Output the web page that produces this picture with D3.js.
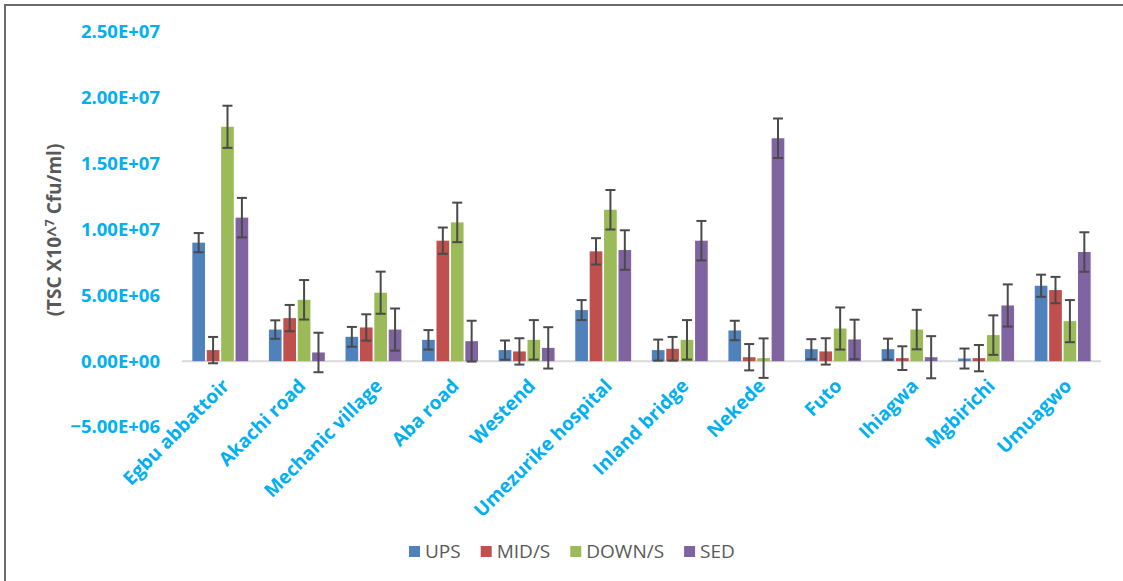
<!DOCTYPE html>
<html>
<head>
<meta charset="utf-8">
<script src="https://cdn.jsdelivr.net/npm/d3@7"></script>
<style>
	html, body { margin: 0; padding: 0; background: #fff; }
	svg { display: block; font-family: 'Open Sans', sans-serif; }
</style>
</head>
<body>
<script>
// sampling sites
var categories = ['Egbu abbattoir', 'Akachi road', 'Mechanic village', 'Aba road', 'Westend',
	'Umezurike hospital', 'Inland bridge', 'Nekede', 'Futo', 'Ihiagwa', 'Mgbirichi', 'Umuagwo'];

var seriesNames = ['UPS', 'MID/S', 'DOWN/S', 'SED'];

// TSC values (cfu/ml)
var ups = [9.0e6, 2.4e6, 1.85e6, 1.62e6, 0.84e6, 3.88e6, 0.84e6, 2.33e6, 0.91e6, 0.91e6, 0.2e6, 5.73e6];
var mid = [0.84e6, 3.27e6, 2.56e6, 9.15e6, 0.74e6, 8.34e6, 0.94e6, 0.3e6, 0.74e6, 0.23e6, 0.23e6, 5.4e6];
var down = [17.8e6, 4.66e6, 5.2e6, 10.54e6, 1.62e6, 11.5e6, 1.62e6, 0.23e6, 2.48e6, 2.4e6, 1.98e6, 3.04e6];
var sed = [10.9e6, 0.66e6, 2.4e6, 1.52e6, 1.01e6, 8.44e6, 9.15e6, 16.93e6, 1.65e6, 0.3e6, 4.23e6, 8.29e6];

// error bar half-lengths
var upsErr = [0.73e6, 0.7e6, 0.75e6, 0.74e6, 0.73e6, 0.76e6, 0.8e6, 0.74e6, 0.76e6, 0.8e6, 0.76e6, 0.84e6];
var midErr = [1.0e6, 1.0e6, 1.0e6, 1.0e6, 1.0e6, 1.0e6, 0.9e6, 1.0e6, 1.0e6, 0.9e6, 1.0e6, 1.0e6];
var downErr = [1.6e6, 1.5e6, 1.6e6, 1.5e6, 1.5e6, 1.5e6, 1.5e6, 1.5e6, 1.6e6, 1.5e6, 1.5e6, 1.6e6];
var sedErr = [1.5e6, 1.5e6, 1.6e6, 1.55e6, 1.57e6, 1.5e6, 1.5e6, 1.5e6, 1.5e6, 1.6e6, 1.6e6, 1.5e6];

var yTicks = [-5e6, 0, 5e6, 1e7, 1.5e7, 2e7, 2.5e7];

var colors = ['#4F81BD', '#C0504D', '#9BBB59', '#8064A2'];
var seriesValues = [ups, mid, down, sed];
var seriesErrors = [upsErr, midErr, downErr, sedErr];

var width = 1123, height = 581;
var plotLeft = 182, plotRight = 1101, plotTop = 32, plotBottom = 427;

var svg = d3.select('body').append('svg')
	.attr('width', width)
	.attr('height', height);

// chart frame (only left and top edges are visible in the crop)
svg.append('path')
	.attr('d', 'M5,' + height + ' L5,5 L' + width + ',5')
	.attr('fill', 'none')
	.attr('stroke', '#6b6b6b')
	.attr('stroke-width', 2);

var y = d3.scaleLinear().domain([-5e6, 2.5e7]).range([plotBottom, plotTop]);

var x0 = d3.scaleBand().domain(categories).range([plotLeft, plotRight])
	.paddingInner(0.27).paddingOuter(0.135);
var x1 = d3.scaleBand().domain(seriesNames).range([0, x0.bandwidth()]).paddingInner(0.12);

// y axis labels
var yAxis = svg.append('g')
	.attr('transform', 'translate(160,0)')
	.call(d3.axisLeft(y).tickValues(yTicks).tickSize(0).tickPadding(0)
		.tickFormat(function (d) {
			var s = d3.format('.2e')(d).toUpperCase();
			return s.replace(/E([+-])(\d)$/, 'E$10$2');
		}));
yAxis.select('.domain').remove();
yAxis.selectAll('text')
	.attr('fill', '#00B0F0')
	.attr('font-size', 18.5)
	.attr('font-weight', 'bold')
	.attr('font-family', "'Open Sans', sans-serif");

// y axis title
var title = svg.append('text')
	.attr('transform', 'translate(61,230) rotate(-90)')
	.attr('text-anchor', 'middle')
	.attr('fill', '#595959')
	.attr('font-size', 19)
	.attr('font-weight', 'bold');
title.append('tspan').text('(TSC X10^');
title.append('tspan').attr('font-size', 12).attr('dy', -7).text('7');
title.append('tspan').attr('dy', 7).text(' Cfu/ml)');

// zero line
svg.append('line')
	.attr('x1', plotLeft).attr('x2', plotRight)
	.attr('y1', y(0)).attr('y2', y(0))
	.attr('stroke', '#D9D9D9')
	.attr('stroke-width', 2);

// bars
var groups = svg.selectAll('.group').data(categories).enter().append('g')
	.attr('class', 'group')
	.attr('transform', function (d) { return 'translate(' + x0(d) + ',0)'; });

seriesNames.forEach(function (name, si) {
	groups.append('rect')
		.attr('x', x1(name))
		.attr('width', x1.bandwidth())
		.attr('y', function (d, i) { return y(Math.max(0, seriesValues[si][i])); })
		.attr('height', function (d, i) { return Math.abs(y(seriesValues[si][i]) - y(0)); })
		.attr('fill', colors[si]);
});

// error bars
var capW = 10;
seriesNames.forEach(function (name, si) {
	var eb = groups.append('g')
		.attr('stroke', '#4a4a4a')
		.attr('stroke-width', 2)
		.attr('transform', 'translate(' + (x1(name) + x1.bandwidth() / 2) + ',0)');
	eb.append('line')
		.attr('x1', 0).attr('x2', 0)
		.attr('y1', function (d, i) { return y(seriesValues[si][i] + seriesErrors[si][i]); })
		.attr('y2', function (d, i) { return y(seriesValues[si][i] - seriesErrors[si][i]); });
	eb.append('line')
		.attr('x1', -capW / 2).attr('x2', capW / 2)
		.attr('y1', function (d, i) { return y(seriesValues[si][i] + seriesErrors[si][i]); })
		.attr('y2', function (d, i) { return y(seriesValues[si][i] + seriesErrors[si][i]); });
	eb.append('line')
		.attr('x1', -capW / 2).attr('x2', capW / 2)
		.attr('y1', function (d, i) { return y(seriesValues[si][i] - seriesErrors[si][i]); })
		.attr('y2', function (d, i) { return y(seriesValues[si][i] - seriesErrors[si][i]); });
});

// category labels
svg.selectAll('.xlabel').data(categories).enter().append('text')
	.attr('class', 'xlabel')
	.attr('transform', function (d) {
		return 'translate(' + (x0(d) + x0.bandwidth() / 2 + 10) + ',' + (y(0) + 26) + ') rotate(-45)';
	})
	.attr('text-anchor', 'end')
	.attr('fill', '#00B0F0')
	.attr('font-size', 19)
	.attr('font-weight', 'bold')
	.text(function (d) { return d; });

// legend
var legend = svg.append('g').attr('transform', 'translate(0,551)');
var lx = 409;
seriesNames.forEach(function (name, si) {
	legend.append('rect')
		.attr('x', lx).attr('y', -5)
		.attr('width', 11).attr('height', 11)
		.attr('fill', colors[si]);
	var t = legend.append('text')
		.attr('x', lx + 16).attr('y', 6.5)
		.attr('fill', '#595959')
		.attr('font-size', 19)
		.text(name);
	lx += 16 + t.node().getComputedTextLength() + 20;
});
</script>
</body>
</html>
